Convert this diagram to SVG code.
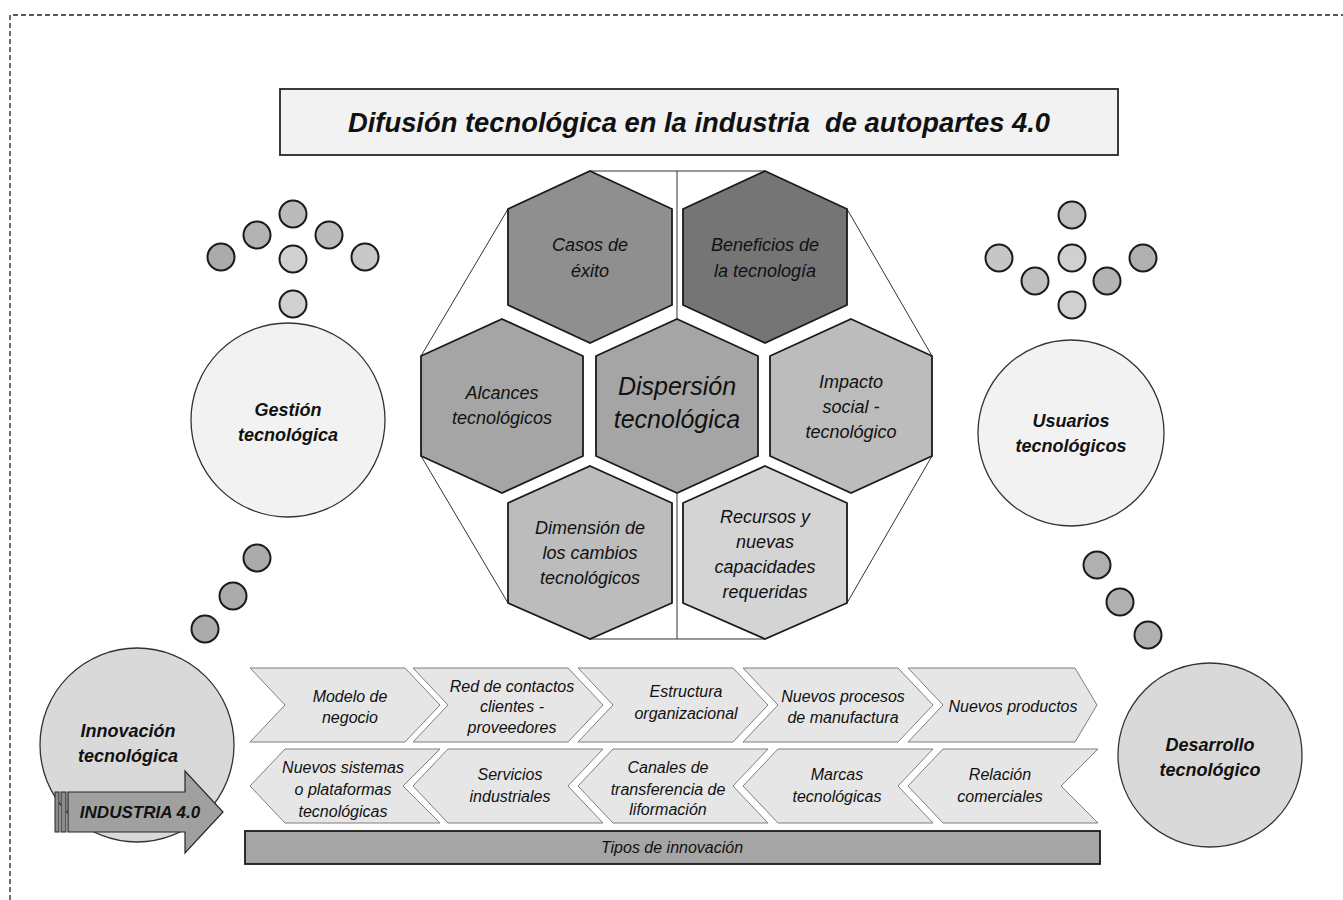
<svg xmlns="http://www.w3.org/2000/svg" width="1343" height="900" viewBox="0 0 1343 900">
<style>
.t{font-family:"Liberation Sans",Arial,sans-serif;font-style:italic;fill:#111;text-anchor:middle}
.hx{stroke:#1a1a1a;stroke-width:1.8}
.big{fill:#f2f2f2;stroke:#333;stroke-width:1.3}
.big2{fill:#d9d9d9;stroke:#333;stroke-width:1.3}
.sm{stroke:#1a1a1a;stroke-width:2}
.chev{fill:#e6e6e6;stroke:#7f7f7f;stroke-width:1}
.h18{font-size:18px}
.c16{font-size:16px}
.b{font-weight:bold}
</style>
<rect width="1343" height="900" fill="#fff"/>
<path d="M10,900 V15 H1343" fill="none" stroke="#222" stroke-width="1.3" stroke-dasharray="5,3"/>

<g id="title">
<rect x="280" y="89" width="838" height="66" fill="#f2f2f2" stroke="#262626" stroke-width="1.8"/>
<text class="t b" x="699" y="132" font-size="27" textLength="702" lengthAdjust="spacingAndGlyphs" style="white-space:pre">Difusión tecnológica en la industria  de autopartes 4.0</text>
</g>

<g id="connectors" fill="none" stroke="#333" stroke-width="1">
<path d="M590,171 H765 M508,209 L421,356 M847,209 L932,356 M421,456 L508,603 M932,456 L847,603 M590,639 H765 M677,171 V639"/>
</g>

<g id="hex-casos">
<polygon class="hx" fill="#8f8f8f" points="590,171 672,209 672,305 590,343 508,305 508,209"/>
<text class="t h18" x="590" y="251">Casos de</text>
<text class="t h18" x="590" y="277">éxito</text>
</g>
<g id="hex-beneficios">
<polygon class="hx" fill="#757575" points="765,171 847,209 847,305 765,343 683,305 683,209"/>
<text class="t h18" x="765" y="251">Beneficios de</text>
<text class="t h18" x="765" y="277">la tecnología</text>
</g>
<g id="hex-alcances">
<polygon class="hx" fill="#a5a5a5" points="502,319 583,356 583,456 502,493 421,456 421,356"/>
<text class="t h18" x="502" y="399">Alcances</text>
<text class="t h18" x="502" y="424">tecnológicos</text>
</g>
<g id="hex-dispersion">
<polygon class="hx" fill="#a5a5a5" points="677,319 758,356 758,456 677,493 596,456 596,356"/>
<text class="t" font-size="25" x="677" y="395">Dispersión</text>
<text class="t" font-size="25" x="677" y="428">tecnológica</text>
</g>
<g id="hex-impacto">
<polygon class="hx" fill="#bcbcbc" points="851,319 932,356 932,456 851,493 770,456 770,356"/>
<text class="t h18" x="851" y="388">Impacto</text>
<text class="t h18" x="851" y="413">social -</text>
<text class="t h18" x="851" y="438">tecnológico</text>
</g>
<g id="hex-dimension">
<polygon class="hx" fill="#bcbcbc" points="590,466 672,503 672,603 590,639 508,603 508,503"/>
<text class="t h18" x="590" y="534">Dimensión de</text>
<text class="t h18" x="590" y="559">los cambios</text>
<text class="t h18" x="590" y="584">tecnológicos</text>
</g>
<g id="hex-recursos">
<polygon class="hx" fill="#d4d4d4" points="765,466 847,503 847,603 765,639 683,603 683,503"/>
<text class="t h18" x="765" y="523">Recursos y</text>
<text class="t h18" x="765" y="548">nuevas</text>
<text class="t h18" x="765" y="573">capacidades</text>
<text class="t h18" x="765" y="598">requeridas</text>
</g>

<g id="dots-left">
<circle class="sm" cx="293" cy="214" r="13.5" fill="#bbbbbb"/>
<circle class="sm" cx="257" cy="235" r="13.5" fill="#b3b3b3"/>
<circle class="sm" cx="329" cy="235" r="13.5" fill="#bbbbbb"/>
<circle class="sm" cx="221" cy="257" r="13.5" fill="#ababab"/>
<circle class="sm" cx="293" cy="259" r="13.5" fill="#d0d0d0"/>
<circle class="sm" cx="365" cy="257" r="13.5" fill="#c8c8c8"/>
<circle class="sm" cx="293" cy="304" r="13.5" fill="#d0d0d0"/>
</g>
<g id="dots-right">
<circle class="sm" cx="1072" cy="215" r="13.5" fill="#bfbfbf"/>
<circle class="sm" cx="999" cy="258" r="13.5" fill="#c6c6c6"/>
<circle class="sm" cx="1072" cy="258" r="13.5" fill="#d0d0d0"/>
<circle class="sm" cx="1143" cy="258" r="13.5" fill="#b0b0b0"/>
<circle class="sm" cx="1035" cy="281" r="13.5" fill="#c0c0c0"/>
<circle class="sm" cx="1107" cy="281" r="13.5" fill="#b3b3b3"/>
<circle class="sm" cx="1072" cy="305" r="13.5" fill="#d0d0d0"/>
</g>
<g id="dots-lower-left">
<circle class="sm" cx="257" cy="558" r="13.5" fill="#ababab"/>
<circle class="sm" cx="233" cy="596" r="13.5" fill="#ababab"/>
<circle class="sm" cx="205" cy="629" r="13.5" fill="#ababab"/>
</g>
<g id="dots-lower-right">
<circle class="sm" cx="1097" cy="565" r="13.5" fill="#b0b0b0"/>
<circle class="sm" cx="1120" cy="602" r="13.5" fill="#b0b0b0"/>
<circle class="sm" cx="1148" cy="635" r="13.5" fill="#b0b0b0"/>
</g>

<g id="gestion">
<circle class="big" cx="288" cy="420" r="97"/>
<text class="t b" font-size="18" x="288" y="416">Gestión</text>
<text class="t b" font-size="18" x="288" y="441">tecnológica</text>
</g>
<g id="usuarios">
<circle class="big" cx="1071" cy="433" r="93"/>
<text class="t b" font-size="18" x="1071" y="427">Usuarios</text>
<text class="t b" font-size="18" x="1071" y="452">tecnológicos</text>
</g>
<g id="innovacion">
<circle class="big2" cx="137" cy="745" r="97"/>
<text class="t b" font-size="18" x="128" y="737">Innovación</text>
<text class="t b" font-size="18" x="128" y="762">tecnológica</text>
</g>
<g id="desarrollo">
<circle class="big2" cx="1210" cy="755" r="92"/>
<text class="t b" font-size="18" x="1210" y="751">Desarrollo</text>
<text class="t b" font-size="18" x="1210" y="776">tecnológico</text>
</g>

<g id="industria">
<rect x="55" y="792" width="4" height="40" fill="#8c8c8c" stroke="#262626" stroke-width="1"/>
<rect x="61" y="792" width="5" height="40" fill="#8c8c8c" stroke="#262626" stroke-width="1"/>
<polygon points="68,792 185,792 185,771 223,812 185,853 185,832 68,832" fill="#a0a0a0" stroke="#262626" stroke-width="1.2"/>
<text class="t b" font-size="17" x="140" y="818" fill="#1a1a1a">INDUSTRIA 4.0</text>
</g>

<g id="chev-top">
<polygon class="chev" points="250,668 405,668 440,705 405,742 250,742 285,705"/>
<polygon class="chev" points="413,668 568,668 603,705 568,742 413,742 448,705"/>
<polygon class="chev" points="578,668 733,668 768,705 733,742 578,742 613,705"/>
<polygon class="chev" points="743,668 898,668 933,705 898,742 743,742 778,705"/>
<polygon class="chev" points="908,668 1075,668 1097,705 1075,742 908,742 943,705"/>
<text class="t c16" x="350" y="702">Modelo de</text>
<text class="t c16" x="350" y="723">negocio</text>
<text class="t c16" x="512" y="692">Red de contactos</text>
<text class="t c16" x="512" y="712">clientes -</text>
<text class="t c16" x="512" y="733">proveedores</text>
<text class="t c16" x="686" y="697">Estructura</text>
<text class="t c16" x="686" y="719">organizacional</text>
<text class="t c16" x="843" y="702">Nuevos procesos</text>
<text class="t c16" x="843" y="723">de manufactura</text>
<text class="t c16" x="1013" y="712">Nuevos productos</text>
</g>
<g id="chev-bottom">
<polygon class="chev" points="250,786 285,749 440,749 403,786 440,823 285,823"/>
<polygon class="chev" points="413,786 448,749 603,749 568,786 603,823 448,823"/>
<polygon class="chev" points="578,786 613,749 768,749 733,786 768,823 613,823"/>
<polygon class="chev" points="743,786 778,749 933,749 898,786 933,823 778,823"/>
<polygon class="chev" points="908,786 943,749 1098,749 1061,786 1098,823 943,823"/>
<text class="t c16" x="343" y="773">Nuevos sistemas</text>
<text class="t c16" x="343" y="795">o plataformas</text>
<text class="t c16" x="343" y="817">tecnológicas</text>
<text class="t c16" x="510" y="780">Servicios</text>
<text class="t c16" x="510" y="802">industriales</text>
<text class="t c16" x="668" y="773">Canales de</text>
<text class="t c16" x="668" y="795">transferencia de</text>
<text class="t c16" x="668" y="815">liformación</text>
<text class="t c16" x="837" y="780">Marcas</text>
<text class="t c16" x="837" y="802">tecnológicas</text>
<text class="t c16" x="1000" y="780">Relación</text>
<text class="t c16" x="1000" y="802">comerciales</text>
</g>

<g id="tipos">
<rect x="245" y="831" width="855" height="33" fill="#a5a5a5" stroke="#1a1a1a" stroke-width="1.8"/>
<text class="t c16" x="672" y="853">Tipos de innovación</text>
</g>
</svg>
